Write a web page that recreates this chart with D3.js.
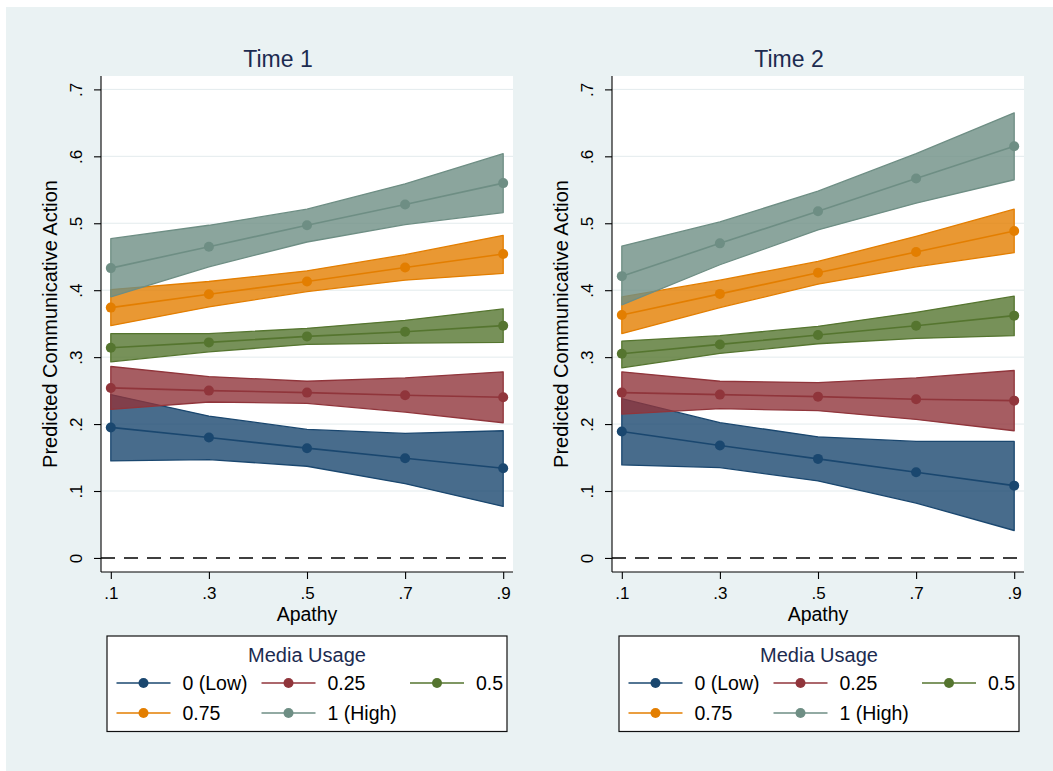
<!DOCTYPE html>
<html>
<head>
<meta charset="utf-8">
<script src="https://cdn.jsdelivr.net/npm/d3@7/dist/d3.min.js"></script>
<style>
  html, body { margin: 0; padding: 0; background: #ffffff; }
  svg { display: block; font-family: "Liberation Sans", Arial, Helvetica, sans-serif; }
</style>
</head>
<body>
<svg id="chart" width="1053" height="771"></svg>
<script>
// ---------------- DATA ----------------
const apathy = [0.1, 0.3, 0.5, 0.7, 0.9];
const xTickLabels = [".1", ".3", ".5", ".7", ".9"];
const yTicks = [0, 0.1, 0.2, 0.3, 0.4, 0.5, 0.6, 0.7];
const yTickLabels = ["0", ".1", ".2", ".3", ".4", ".5", ".6", ".7"];
const mediaLevels = ["0 (Low)", "0.25", "0.5", "0.75", "1 (High)"];
const panelTitles = ["Time 1", "Time 2"];
const xTitle = "Apathy";
const yTitle = "Predicted Communicative Action";
const legendTitle = "Media Usage";

// Time 1: one row per media level, one value per apathy level
const t1Est = [
  [0.195, 0.180, 0.164, 0.149, 0.134],
  [0.254, 0.250, 0.247, 0.243, 0.240],
  [0.314, 0.322, 0.331, 0.338, 0.347],
  [0.374, 0.394, 0.413, 0.434, 0.454],
  [0.433, 0.465, 0.497, 0.528, 0.560]
];
const t1Lo = [
  [0.145, 0.147, 0.137, 0.111, 0.077],
  [0.222, 0.233, 0.231, 0.218, 0.202],
  [0.293, 0.308, 0.319, 0.321, 0.322],
  [0.347, 0.375, 0.398, 0.415, 0.425],
  [0.390, 0.435, 0.472, 0.498, 0.516]
];
const t1Hi = [
  [0.244, 0.212, 0.192, 0.186, 0.190],
  [0.286, 0.271, 0.264, 0.269, 0.278],
  [0.335, 0.335, 0.343, 0.355, 0.372],
  [0.401, 0.413, 0.429, 0.453, 0.482],
  [0.477, 0.497, 0.521, 0.559, 0.604]
];

// Time 2
const t2Est = [
  [0.189, 0.168, 0.148, 0.128, 0.108],
  [0.247, 0.244, 0.241, 0.237, 0.235],
  [0.305, 0.319, 0.333, 0.347, 0.362],
  [0.363, 0.3945, 0.426, 0.457, 0.4885],
  [0.421, 0.470, 0.518, 0.567, 0.615]
];
const t2Lo = [
  [0.139, 0.135, 0.115, 0.082, 0.041],
  [0.215, 0.223, 0.220, 0.207, 0.190],
  [0.284, 0.3055, 0.320, 0.328, 0.332],
  [0.335, 0.374, 0.409, 0.435, 0.456],
  [0.378, 0.438, 0.490, 0.530, 0.565]
];
const t2Hi = [
  [0.238, 0.202, 0.181, 0.174, 0.174],
  [0.278, 0.264, 0.262, 0.269, 0.280],
  [0.324, 0.332, 0.346, 0.367, 0.391],
  [0.390, 0.415, 0.443, 0.4805, 0.521],
  [0.466, 0.502, 0.548, 0.604, 0.665]
];

// ---------------- STYLE ----------------
const lineColors = ["#1a476f", "#90353b", "#55752f", "#e37e00", "#6e8e84"];
const bgColor = "#eaf2f3";
const titleColor = "#1c2b50";

const svg = d3.select("#chart");
svg.append("rect").attr("x", 6).attr("y", 7).attr("width", 1047).attr("height", 764).attr("fill", bgColor);

const panels = [
  { left: 101, title: panelTitles[0], est: t1Est, lo: t1Lo, hi: t1Hi, titleX: 278, legendX: 107 },
  { left: 612, title: panelTitles[1], est: t2Est, lo: t2Lo, hi: t2Hi, titleX: 789, legendX: 619 }
];
const plotW = 412, plotTop = 76, plotBottom = 572;

panels.forEach(p => {
  const x = d3.scaleLinear().domain([0.08, 0.92]).range([p.left, p.left + plotW]);
  const y = d3.scaleLinear().domain([-0.021, 0.72]).range([plotBottom, plotTop]);
  const g = svg.append("g");

  // plot region
  g.append("rect").attr("x", p.left).attr("y", plotTop)
    .attr("width", plotW).attr("height", plotBottom - plotTop).attr("fill", "#ffffff");

  // gridlines
  g.selectAll(".grid").data(yTicks.filter(v => v > 0)).enter().append("line")
    .attr("x1", p.left).attr("x2", p.left + plotW)
    .attr("y1", d => y(d)).attr("y2", d => y(d))
    .attr("stroke", "#e3ebed").attr("stroke-width", 1);

  // zero reference line
  g.append("line").attr("x1", p.left).attr("x2", p.left + plotW)
    .attr("y1", y(0)).attr("y2", y(0))
    .attr("stroke", "#000").attr("stroke-width", 1.6).attr("stroke-dasharray", "14,9");

  // CI bands
  const area = d3.area().x(d => x(d.x)).y0(d => y(d.lo)).y1(d => y(d.hi));
  p.est.forEach((row, i) => {
    const pts = apathy.map((a, j) => ({ x: a, lo: p.lo[i][j], hi: p.hi[i][j] }));
    g.append("path").datum(pts).attr("d", area)
      .attr("fill", lineColors[i]).attr("fill-opacity", 0.8)
      .attr("stroke", lineColors[i]).attr("stroke-width", 1.3).attr("stroke-linejoin", "round");
  });

  // estimate lines and markers
  const line = d3.line().x(d => x(d.x)).y(d => y(d.v));
  p.est.forEach((row, i) => {
    const pts = apathy.map((a, j) => ({ x: a, v: row[j] }));
    g.append("path").datum(pts).attr("d", line)
      .attr("fill", "none").attr("stroke", lineColors[i]).attr("stroke-width", 1.6);
    g.selectAll(null).data(pts).enter().append("circle")
      .attr("cx", d => x(d.x)).attr("cy", d => y(d.v)).attr("r", 5)
      .attr("fill", lineColors[i]);
  });

  // y axis
  const yAxis = d3.axisLeft(y).tickValues(yTicks).tickSize(7).tickFormat((d, i) => yTickLabels[i]);
  const ya = g.append("g").attr("transform", `translate(${p.left},0)`).call(yAxis);
  ya.select(".domain").attr("d", `M0,${plotTop}V${plotBottom}`).attr("stroke", "#000").attr("stroke-width", 1.1);
  ya.selectAll(".tick line").attr("stroke", "#000").attr("stroke-width", 1.1);
  ya.selectAll(".tick text").remove();
  ya.selectAll(".tick").append("text")
    .attr("transform", "translate(-19,0) rotate(-90)")
    .attr("text-anchor", "middle").attr("fill", "#000")
    .attr("font-size", 17).attr("font-family", "Liberation Sans, Arial, sans-serif")
    .text((d, i) => yTickLabels[i]);

  // x axis
  const xAxis = d3.axisBottom(x).tickValues(apathy).tickSize(7).tickFormat((d, i) => xTickLabels[i]);
  const xa = g.append("g").attr("transform", `translate(0,${plotBottom})`).call(xAxis);
  xa.select(".domain").attr("d", `M${p.left},0H${p.left + plotW}`).attr("stroke", "#000").attr("stroke-width", 1.1);
  xa.selectAll(".tick line").attr("stroke", "#000").attr("stroke-width", 1.1);
  xa.selectAll(".tick text").attr("y", 27).attr("dy", 0).attr("fill", "#000")
    .attr("font-size", 17).attr("font-family", "Liberation Sans, Arial, sans-serif");

  // axis titles
  g.append("text").attr("x", p.left + plotW / 2).attr("y", 621)
    .attr("text-anchor", "middle").attr("font-size", 19.5).attr("fill", "#000").text(xTitle);
  g.append("text")
    .attr("transform", `translate(${p.left - 44},${(plotTop + plotBottom) / 2}) rotate(-90)`)
    .attr("text-anchor", "middle").attr("font-size", 20).attr("fill", "#000").text(yTitle);

  // panel title
  g.append("text").attr("x", p.titleX).attr("y", 67)
    .attr("text-anchor", "middle").attr("font-size", 23).attr("fill", titleColor).text(p.title);

  // legend
  const lg = g.append("g").attr("transform", `translate(${p.legendX},636)`);
  lg.append("rect").attr("x", 0).attr("y", 0).attr("width", 400).attr("height", 95.5)
    .attr("fill", "#ffffff").attr("stroke", "#111").attr("stroke-width", 1.2);
  lg.append("text").attr("x", 200).attr("y", 26).attr("text-anchor", "middle")
    .attr("font-size", 20).attr("fill", titleColor).text(legendTitle);
  const colX = [9.5, 154.5, 303];
  const rowY = [47, 77];
  mediaLevels.forEach((lab, i) => {
    const cx = colX[i % 3], cy = rowY[Math.floor(i / 3)];
    lg.append("line").attr("x1", cx).attr("x2", cx + 54).attr("y1", cy).attr("y2", cy)
      .attr("stroke", lineColors[i]).attr("stroke-width", 1.6);
    lg.append("circle").attr("cx", cx + 27).attr("cy", cy).attr("r", 5).attr("fill", lineColors[i]);
    lg.append("text").attr("x", cx + 66).attr("y", cy + 7).attr("font-size", 19.5)
      .attr("fill", "#000").text(lab);
  });
});
</script>
</body>
</html>
